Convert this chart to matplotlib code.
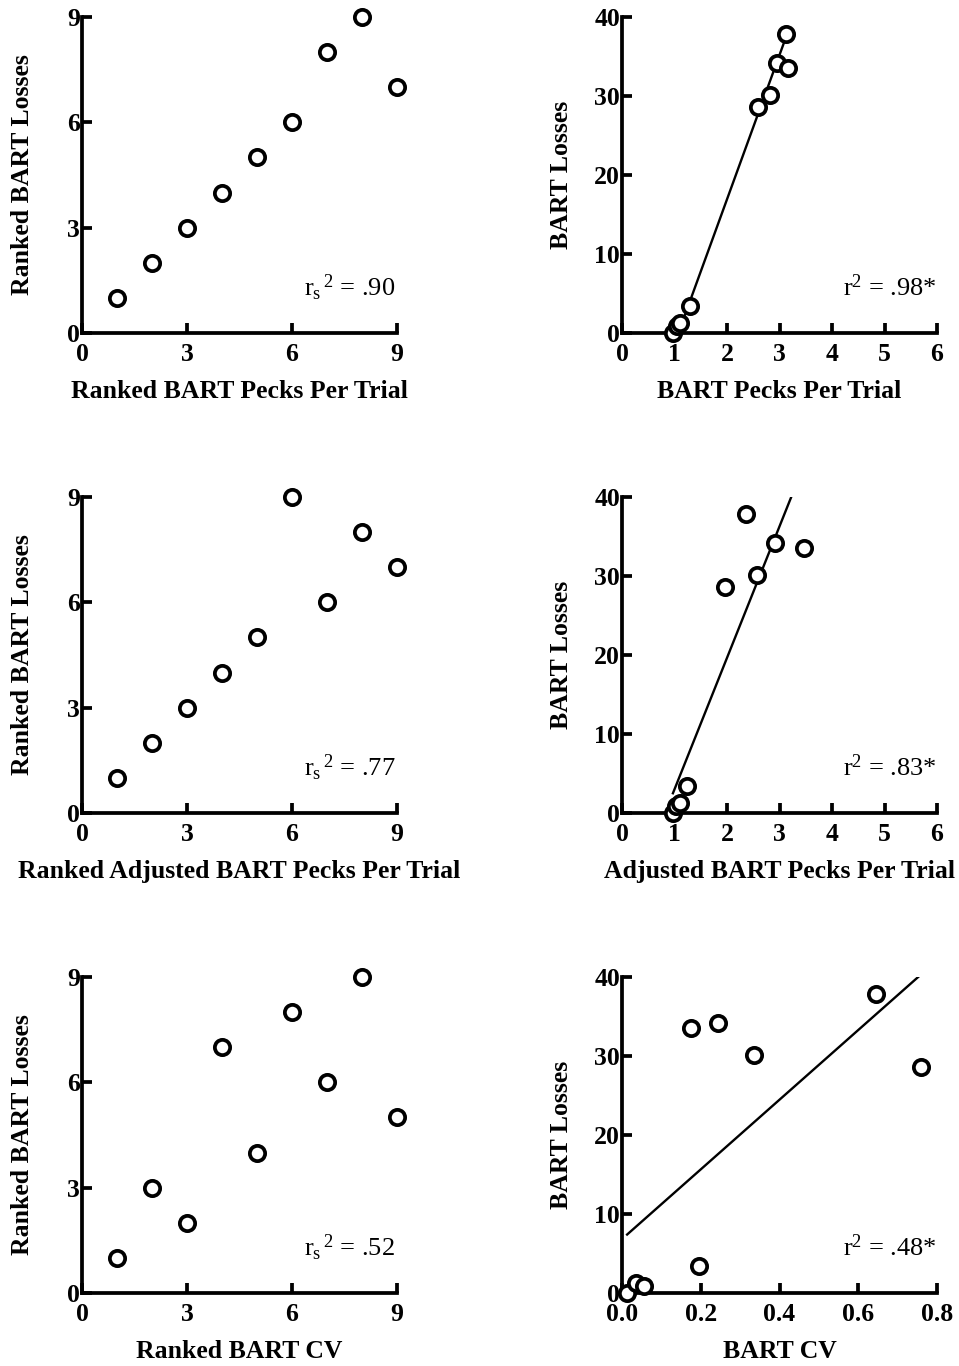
import matplotlib
matplotlib.use("Agg")
import matplotlib.pyplot as plt

plt.rcParams['font.family'] = ['Liberation Serif', 'DejaVu Serif']
plt.rcParams['mathtext.fontset'] = 'custom'
plt.rcParams['mathtext.rm'] = 'Liberation Serif'
plt.rcParams['mathtext.it'] = 'Liberation Serif'

# raw values (9 subjects)
pecks = [0.97, 1.05, 1.10, 1.29, 2.59, 2.81, 2.95, 3.13, 3.17]
pecks_losses = [0.0, 0.9, 1.3, 3.4, 28.6, 30.1, 34.2, 37.8, 33.5]
adj_pecks = [0.97, 1.03, 1.10, 1.24, 1.97, 2.36, 2.58, 2.91, 3.47]
adj_losses = [0.0, 0.9, 1.3, 3.4, 28.6, 37.8, 30.1, 34.2, 33.5]
cv = [0.013, 0.036, 0.055, 0.175, 0.195, 0.243, 0.334, 0.646, 0.759]
cv_losses = [0.0, 1.3, 0.9, 33.5, 3.4, 34.2, 30.1, 37.8, 28.6]

# ranked values
rank_x = [1, 2, 3, 4, 5, 6, 7, 8, 9]
rank_pecks_losses = [1, 2, 3, 4, 5, 6, 8, 9, 7]
rank_adj_losses = [1, 2, 3, 4, 5, 9, 6, 8, 7]
rank_cv_losses = [1, 3, 2, 7, 4, 8, 6, 9, 5]

# regression line endpoints
fit_pecks_x, fit_pecks_y = [0.97, 3.17], [-1.9, 38.3]
fit_adj_x, fit_adj_y = [0.97, 3.47], [2.5, 44.1]
fit_cv_x, fit_cv_y = [0.013, 0.759], [7.4, 40.3]

rank_stats = ['.90', '.77', '.52']
lin_stats = ['.98*', '.83*', '.48*']
rank_xlabels = ['Ranked BART Pecks Per Trial', 'Ranked Adjusted BART Pecks Per Trial', 'Ranked BART CV']
lin_xlabels = ['BART Pecks Per Trial', 'Adjusted BART Pecks Per Trial', 'BART CV']

fig = plt.figure(figsize=(9.59, 13.66), dpi=100)
W, H = 959, 1366
bottoms = [333, 813, 1293]
lefts = [82, 622]
aw, ah = 315, 316


def style(ax):
    for s in ['top', 'right']:
        ax.spines[s].set_visible(False)
    for s in ['left', 'bottom']:
        ax.spines[s].set_linewidth(2.7)
    ax.tick_params(direction='in', length=7.5, width=2.7, labelsize=18.5)
    ax.tick_params(axis='x', pad=7)
    ax.tick_params(axis='y', pad=1.5)
    for lab in ax.get_xticklabels() + ax.get_yticklabels():
        lab.set_fontweight('bold')


mk = dict(marker='o', ms=11, mfc='white', mec='black', mew=2.7, ls='none', clip_on=False, zorder=3)

rank_y = [rank_pecks_losses, rank_adj_losses, rank_cv_losses]
raw = [(pecks, pecks_losses, fit_pecks_x, fit_pecks_y),
       (adj_pecks, adj_losses, fit_adj_x, fit_adj_y),
       (cv, cv_losses, fit_cv_x, fit_cv_y)]

for row in range(3):
    b = bottoms[row]
    # left: ranked
    ax = fig.add_axes([lefts[0] / W, 1 - b / H, aw / W, ah / H])
    ax.plot(rank_x, rank_y[row], **mk)
    ax.set_xlim(0, 9)
    ax.set_ylim(0, 9)
    ax.set_xticks([0, 3, 6, 9])
    ax.set_yticks([0, 3, 6, 9])
    style(ax)
    ax.set_xlabel(rank_xlabels[row], fontsize=18.5, fontweight='bold', labelpad=10)
    ax.set_ylabel('Ranked BART Losses', fontsize=18.5, fontweight='bold', labelpad=24)
    ax.text(8.95, 1.05, r'$\mathrm{r_{s}{}^{\,2}}$ = ' + rank_stats[row],
            fontsize=19, ha='right', va='baseline')

    # right: raw with regression
    x, y, fx, fy = raw[row]
    ax = fig.add_axes([lefts[1] / W, 1 - b / H, aw / W, ah / H])
    ax.plot(fx, fy, color='black', lw=1.7, zorder=2)
    ax.plot(x, y, **mk)
    ax.set_ylim(0, 40)
    ax.set_yticks([0, 10, 20, 30, 40])
    if row < 2:
        ax.set_xlim(0, 6)
        ax.set_xticks(range(7))
    else:
        ax.set_xlim(0, 0.8)
        ax.set_xticks([0.0, 0.2, 0.4, 0.6, 0.8])
        ax.set_xticklabels(['0.0', '0.2', '0.4', '0.6', '0.8'])
    style(ax)
    ax.set_xlabel(lin_xlabels[row], fontsize=18.5, fontweight='bold', labelpad=10)
    ax.set_ylabel('BART Losses', fontsize=18.5, fontweight='bold', labelpad=15)
    xr = ax.get_xlim()[1]
    ax.text(xr, 40 / 9 * 1.05, r'$\mathrm{r^{2}}$ = ' + lin_stats[row],
            fontsize=19, ha='right', va='baseline')

fig.savefig('out.png', dpi=100)
